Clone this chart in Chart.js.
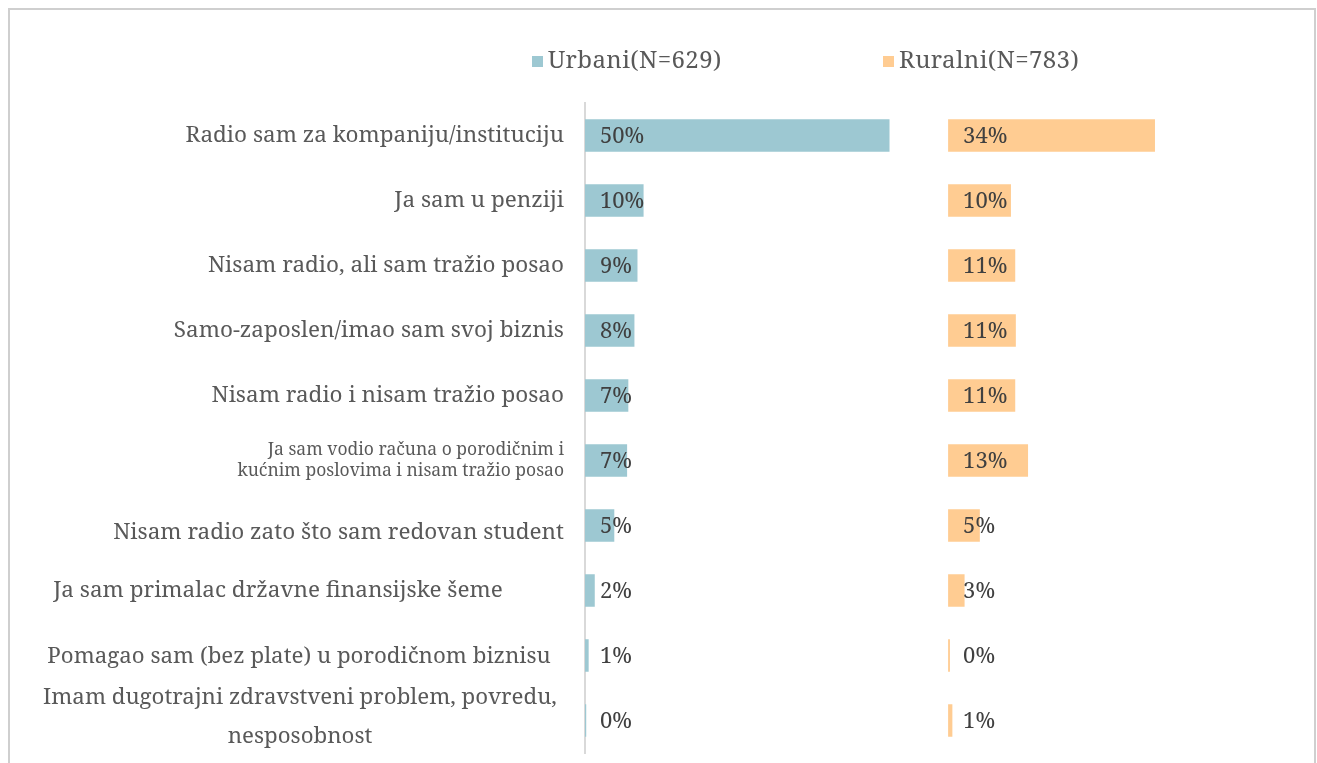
<!DOCTYPE html>
<html>
<head>
<meta charset="utf-8">
<script src="https://cdn.jsdelivr.net/npm/chart.js@4.4.1/dist/chart.umd.min.js"></script>
<style>
html, body { margin: 0; padding: 0; background: #fff; overflow: hidden; }
#wrap { position: relative; width: 1317px; height: 763px; }
#frame { position: absolute; left: 8px; top: 8px; width: 1308px; height: 800px; border: 2px solid #cfcfcf; box-sizing: border-box; }
#chart { position: absolute; left: 0; top: 0; }
.legend-item { position: absolute; top: 42px; font-family: "Noto Serif", serif; font-size: 24px; letter-spacing: 0.4px; color: #595959; white-space: nowrap; }
.legend-item .box { display: inline-block; width: 11px; height: 11px; margin-right: 5px; vertical-align: 1px; }
</style>
</head>
<body>
<div id="wrap">
    <div id="frame"></div>
    <canvas id="chart" width="1317" height="763"></canvas>
    <div class="legend-item" style="left:532px"><span class="box" style="background:#9dc8d2"></span>Urbani(N=629)</div>
    <div class="legend-item" style="left:883px"><span class="box" style="background:#ffcc92"></span>Ruralni(N=783)</div>
</div>
<script>
const categories = [
    'Radio sam za kompaniju/instituciju',
    'Ja sam u penziji',
    'Nisam radio, ali sam tražio posao',
    'Samo-zaposlen/imao sam svoj biznis',
    'Nisam radio i nisam tražio posao',
    ['Ja sam vodio računa o porodičnim i', 'kućnim poslovima i nisam tražio posao'],
    'Nisam radio zato što sam redovan student',
    'Ja sam primalac državne finansijske šeme',
    'Pomagao sam (bez plate) u porodičnom biznisu',
    ['Imam dugotrajni zdravstveni problem, povredu,', 'nesposobnost']
]

const urbani = [49.9, 9.6, 8.6, 8.1, 7.1, 6.9, 4.8, 1.6, 0.6, 0.2]
const ruralni = [33.9, 10.3, 11.0, 11.1, 11.0, 13.1, 5.2, 2.7, 0.3, 0.7]

// the rural panel starts further along the same axis
const ruralStart = 59.5

const FONT = '"Noto Serif", serif'
const TEXT = '#595959'

// per-label look: the small wrapped one and the centred ones at the bottom
const labelStyle = i => {
    if(i === 5) return {size: 17.5, lh: 21, align: 'right', dy: 0}
    if(i === 6) return {size: 22.5, lh: 26, align: 'right', dy: 7}
    if(i === 7) return {size: 22.5, lh: 26, align: 'center', cx: 278, dy: 0}
    if(i === 8) return {size: 22.3, lh: 26, align: 'center', cx: 299, dy: 1}
    if(i === 9) return {size: 22.3, lh: 39, align: 'center', cx: 300, dy: -3}
    return {size: 22.5, lh: 26, align: 'right', dy: 0}
}

const categoryLabels = {
    id: 'categoryLabels',
    afterDraw(chart){
        const ctx = chart.ctx
        const yScale = chart.scales.y
        ctx.save()
        ctx.fillStyle = TEXT
        ctx.textBaseline = 'middle'
        categories.forEach((c, i) => {
            const lines = Array.isArray(c) ? c : [c]
            const st = labelStyle(i)
            ctx.font = st.size + 'px ' + FONT
            ctx.textAlign = st.align
            const x = st.align === 'right' ? chart.chartArea.left - 21 : st.cx
            const yc = yScale.getPixelForValue(i) + st.dy
            const top = yc - (lines.length - 1) * st.lh / 2
            lines.forEach((l, k) => ctx.fillText(l, x, top + k * st.lh))
        })
        ctx.restore()
    }
}

const valueLabels = {
    id: 'valueLabels',
    afterDatasetsDraw(chart){
        const ctx = chart.ctx
        ctx.save()
        ctx.fillStyle = '#404040'
        ctx.font = '22px ' + FONT
        ctx.textAlign = 'left'
        ctx.textBaseline = 'middle'
        chart.data.datasets.forEach((ds, d) => {
            chart.getDatasetMeta(d).data.forEach((bar, i) => {
                const v = d === 0 ? urbani[i] : ruralni[i]
                const base = Math.min(bar.x, bar.base)
                ctx.fillText(Math.round(v) + '%', base + 15, bar.y + 1)
            })
        })
        ctx.restore()
    }
}

new Chart(document.getElementById('chart'), {
    type: 'bar',
    data: {
        labels: categories,
        datasets: [
            {
                label: 'Urbani(N=629)',
                data: urbani,
                backgroundColor: '#9dc8d2',
                grouped: false
            },
            {
                label: 'Ruralni(N=783)',
                data: ruralni.map(v => [ruralStart, ruralStart + v]),
                backgroundColor: '#ffcc92',
                grouped: false
            }
        ]
    },
    options: {
        indexAxis: 'y',
        responsive: false,
        animation: false,
        datasets: {
            bar: {categoryPercentage: 1, barPercentage: 0.5}
        },
        layout: {padding: {top: 103, bottom: 10, right: 18, left: 0}},
        plugins: {legend: {display: false}, tooltip: {enabled: false}},
        scales: {
            x: {display: false, min: 0, max: 117},
            y: {
                grid: {display: false},
                border: {color: '#d9d9d9', width: 2},
                ticks: {display: false},
                afterFit(scale){ scale.width = 585 }
            }
        }
    },
    plugins: [categoryLabels, valueLabels]
})
</script>
</body>
</html>
